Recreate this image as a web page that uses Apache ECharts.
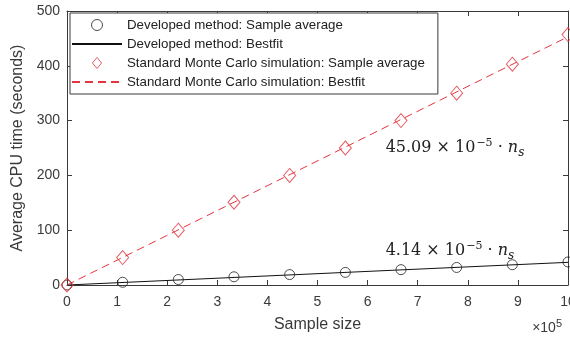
<!DOCTYPE html>
<html><head><meta charset="utf-8">
<script src="https://cdn.jsdelivr.net/npm/echarts@6/dist/echarts.min.js"></script>
<style>html,body{margin:0;padding:0;background:#fff}#c{width:570px;height:343px}</style>
</head><body><div id="c"></div>
<script>
// Sample size (×10^5)
const sampleSizes = [0, 1.111, 2.222, 3.333, 4.444, 5.556, 6.667, 7.778, 8.889, 10];
// Developed method: sample average CPU time (s)
const devAvg = [0, 5, 10, 15, 19, 23, 28, 32, 37, 42];
// Standard Monte Carlo: sample average CPU time (s)
const mcAvg = [0, 50, 100, 151, 200, 250, 300, 350, 403, 457];
// Best-fit lines (endpoints)
const fitX = [0, 10];
const devFit = [0, 41.4];
const mcFit = [0, 453];
const xTicks = [0,1,2,3,4,5,6,7,8,9,10];
const yTicks = [0,100,200,300,400,500];

const RED = '#e2353f';
const AX = '#3a3a3a';
const FONT = 'Liberation Sans';
const DIAMOND = 'path://M0,-6L5,0L0,6L-5,0Z';
const pair = (xs, ys) => xs.map((x, i) => [x, ys[i]]);

const chart = echarts.init(document.getElementById('c'));
const baseAxis = {
  axisLine: {show: true, onZero: false, lineStyle: {color: AX, width: 1}},
  axisTick: {show: true, inside: true, length: 5, lineStyle: {color: AX}},
  splitLine: {show: false}
};
const mathRich = {
  a: {fontFamily: 'DejaVu Serif', fontSize: 16, color: '#222'},
  sup: {fontFamily: 'DejaVu Serif', fontSize: 11, color: '#222', verticalAlign: 'top', padding: [0,0,10,1]},
  n: {fontFamily: 'DejaVu Serif', fontSize: 16, fontStyle: 'italic', color: '#222'},
  sub: {fontFamily: 'DejaVu Serif', fontSize: 12, fontStyle: 'italic', color: '#222', verticalAlign: 'bottom', padding: [7,0,0,0]}
};
const hiddenSym = {color: 'rgba(0,0,0,0)', borderColor: 'rgba(0,0,0,0)', borderWidth: 0, opacity: 0};
chart.setOption({
  animation: false,
  backgroundColor: '#fff',
  grid: {left: 67, right: 2, top: 11, bottom: 58, outerBoundsMode: 'none', containLabel: false},
  legend: {
    orient: 'vertical', left: 70, top: 13,
    backgroundColor: '#fff', borderColor: AX, borderWidth: 1,
    padding: [4, 13, 4, 1], itemGap: 3, itemWidth: 50, itemHeight: 11,
    symbolKeepAspect: true,
    textStyle: {fontFamily: FONT, fontSize: 13.3, color: '#222', lineHeight: 16},
    data: [
      {name: 'Developed method: Sample average', icon: 'circle',
        itemStyle: {color: '#fff', borderColor: '#222', borderWidth: 1}},
      {name: 'Developed method: Bestfit', itemStyle: hiddenSym},
      {name: 'Standard Monte Carlo simulation: Sample average', icon: DIAMOND,
        itemStyle: {color: '#fff', borderColor: RED, borderWidth: 1}},
      {name: 'Standard Monte Carlo simulation: Bestfit', itemStyle: hiddenSym}
    ]
  },
  xAxis: [
    Object.assign({}, baseAxis, {
      type: 'value', min: 0, max: 10, interval: 1, position: 'bottom',
      name: 'Sample size', nameLocation: 'middle', nameGap: 32,
      nameTextStyle: {fontFamily: FONT, fontSize: 16, color: AX},
      axisLabel: {fontFamily: FONT, fontSize: 14, color: AX, margin: 10, hideOverlap: false,
        formatter: v => xTicks.includes(v) ? String(v) : ''}
    }),
    Object.assign({}, baseAxis, {
      type: 'value', min: 0, max: 10, interval: 1, position: 'top',
      axisLabel: {show: false}
    })
  ],
  yAxis: [
    Object.assign({}, baseAxis, {
      type: 'value', min: 0, max: 500, interval: 100, position: 'left',
      name: 'Average CPU time (seconds)', nameLocation: 'middle', nameGap: 31,
      nameTextStyle: {fontFamily: FONT, fontSize: 16, color: AX},
      axisLabel: {fontFamily: FONT, fontSize: 14, color: AX, margin: 7,
        formatter: v => yTicks.includes(v) ? String(v) : ''}
    }),
    Object.assign({}, baseAxis, {
      type: 'value', min: 0, max: 500, interval: 100, position: 'right',
      axisLabel: {show: false}
    })
  ],
  graphic: [{
    type: 'text', right: 8, bottom: 8,
    style: {text: '×10{s|5}', fontFamily: FONT, fontSize: 14, fill: AX,
      rich: {s: {fontSize: 11, verticalAlign: 'top', padding: [0,0,8,0]}}}
  }],
  series: [
    {
      name: 'Developed method: Bestfit', type: 'line', data: pair(fitX, devFit),
      symbol: 'none', lineStyle: {color: '#111', width: 1}, itemStyle: {color: '#111'}, z: 2,
      markPoint: {
        symbol: 'circle', symbolSize: 1, itemStyle: {color: 'rgba(0,0,0,0)'},
        label: {position: 'right', distance: 0, formatter: '{a|4.14 × 10}{sup|−5}{a| · }{n|n}{sub|s}', rich: mathRich},
        data: [{coord: [6.35, 62]}]
      }
    },
    {
      name: 'Standard Monte Carlo simulation: Bestfit', type: 'line', data: pair(fitX, mcFit),
      symbol: 'none', lineStyle: {color: RED, width: 1, type: [8, 5]}, itemStyle: {color: RED}, z: 2,
      markPoint: {
        symbol: 'circle', symbolSize: 1, itemStyle: {color: 'rgba(0,0,0,0)'},
        label: {position: 'right', distance: 0, formatter: '{a|45.09 × 10}{sup|−5}{a| · }{n|n}{sub|s}', rich: mathRich},
        data: [{coord: [6.35, 250]}]
      }
    },
    {
      name: 'Developed method: Sample average', type: 'scatter', data: pair(sampleSizes, devAvg),
      symbol: 'circle', symbolSize: 10,
      itemStyle: {color: 'rgba(255,255,255,0)', borderColor: '#222', borderWidth: 1}, z: 3
    },
    {
      name: 'Standard Monte Carlo simulation: Sample average', type: 'scatter', data: pair(sampleSizes, mcAvg),
      symbol: DIAMOND, symbolSize: [12, 14], symbolKeepAspect: false,
      itemStyle: {color: 'rgba(255,255,255,0)', borderColor: RED, borderWidth: 1}, z: 3
    }
  ]
});
</script></body></html>
